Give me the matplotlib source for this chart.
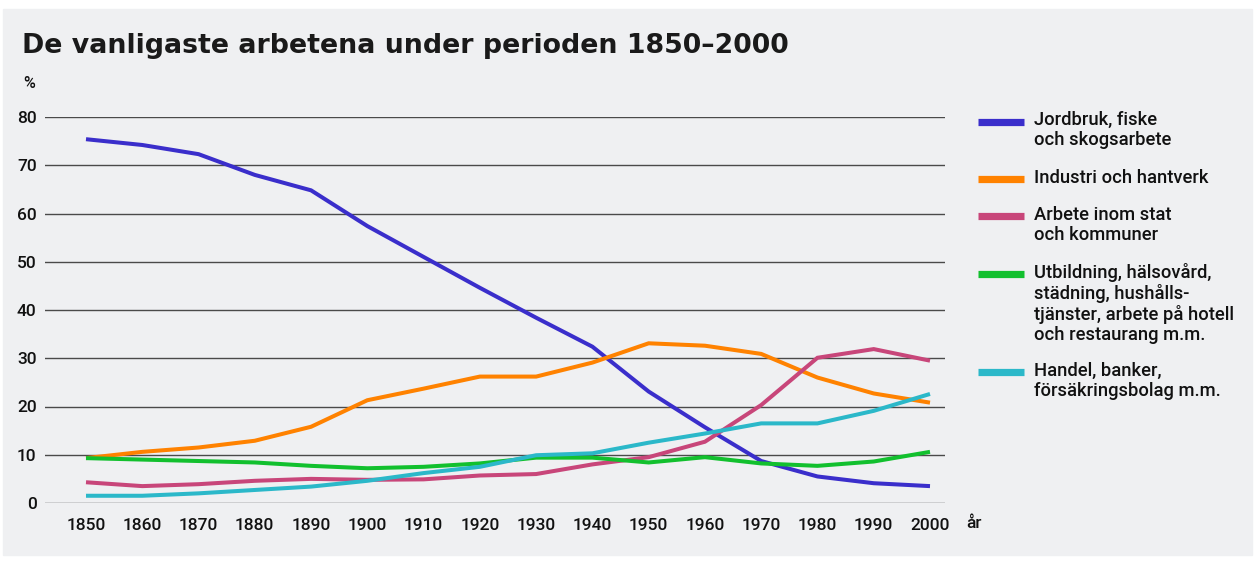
import matplotlib.pyplot as plt
from matplotlib.lines import Line2D
from matplotlib.patches import Rectangle

plt.rcParams["font.family"] = ["Roboto", "DejaVu Sans"]
plt.rcParams["font.weight"] = "medium"

years = [1850, 1860, 1870, 1880, 1890, 1900, 1910, 1920,
         1930, 1940, 1950, 1960, 1970, 1980, 1990, 2000]

jordbruk = [75.4, 74.2, 72.3, 68.0, 64.8, 57.4, 51.0, 44.6,
            38.4, 32.4, 23.1, 15.7, 8.7, 5.5, 4.1, 3.5]
industri = [9.3, 10.6, 11.5, 12.9, 15.8, 21.3, 23.7, 26.2,
            26.2, 29.1, 33.1, 32.6, 30.9, 26.0, 22.7, 20.8]
stat = [4.3, 3.5, 3.9, 4.6, 5.0, 4.8, 4.9, 5.7,
        6.0, 8.0, 9.5, 12.7, 20.3, 30.1, 31.9, 29.5]
utbildning = [9.3, 9.0, 8.7, 8.4, 7.7, 7.2, 7.5, 8.2,
              9.4, 9.4, 8.4, 9.5, 8.2, 7.7, 8.6, 10.6]
handel = [1.5, 1.5, 2.0, 2.7, 3.4, 4.6, 6.2, 7.5,
          9.9, 10.3, 12.5, 14.4, 16.5, 16.5, 19.1, 22.6]

labels = [
    "Jordbruk, fiske\noch skogsarbete",
    "Industri och hantverk",
    "Arbete inom stat\noch kommuner",
    "Utbildning, hälsovård,\nstädning, hushålls-\ntjänster, arbete på hotell\noch restaurang m.m.",
    "Handel, banker,\nförsäkringsbolag m.m.",
]
series = [jordbruk, industri, stat, utbildning, handel]
colors = ["#3a2ecb", "#ff8200", "#c8467a", "#12c02e", "#2bb8c9"]
yticks = [0, 10, 20, 30, 40, 50, 60, 70, 80]

W, H = 1255, 562
fig = plt.figure(figsize=(W / 100, H / 100), dpi=100, facecolor="white")
bg = "#eff0f2"
fig.patches.append(Rectangle((3 / W, 1 - 555 / H), 1249 / W, 546 / H,
                             transform=fig.transFigure, color=bg, zorder=-10))

ax = fig.add_axes([45 / W, 1 - 503 / H, 900 / W, 386 / H])
ax.set_facecolor("none")

for ys, c in zip(series, colors):
    ax.plot(years, ys, color=c, lw=2.9, solid_joinstyle="miter",
            solid_capstyle="butt", clip_on=False, zorder=3)

for y in yticks:
    ax.axhline(y, color="#4a4a4a", lw=1.0, zorder=1)

ax.set_xlim(1850 - 41 / 5.627, 2000 + 15 / 5.627)
ax.set_ylim(0, 80)
ax.set_xticks(years)
ax.set_yticks(yticks)
ax.tick_params(length=0, labelsize=12.5, colors="#111111")
ax.tick_params(axis="y", pad=6)
ax.tick_params(axis="x", pad=11)
for s in ax.spines.values():
    s.set_visible(False)

fig.text(22 / W, 1 - 46 / H, "De vanligaste arbetena under perioden 1850–2000",
         fontsize=19.3, fontweight="bold", family="DejaVu Sans",
         color="#1a1a1a", va="center")
fig.text(23 / W, 1 - 84 / H, "%", fontsize=11.5, color="#111111", va="center")
fig.text(966 / W, 1 - 523 / H, "år", fontsize=12.5, color="#111111", va="center")

# legend
y = 121.7
for lab, c in zip(labels, colors):
    fig.add_artist(Line2D([978 / W, 1024 / W], [1 - y / H, 1 - y / H],
                          transform=fig.transFigure, color=c, lw=5.2,
                          solid_capstyle="butt"))
    fig.text(1034 / W, 1 - (y - 10.5) / H, lab, fontsize=13.2, color="#111111",
             va="top", linespacing=1.13)
    y += 20.5 * (lab.count("\n") + 1) + 16.5

fig.savefig("out.png", dpi=100, facecolor="white")
